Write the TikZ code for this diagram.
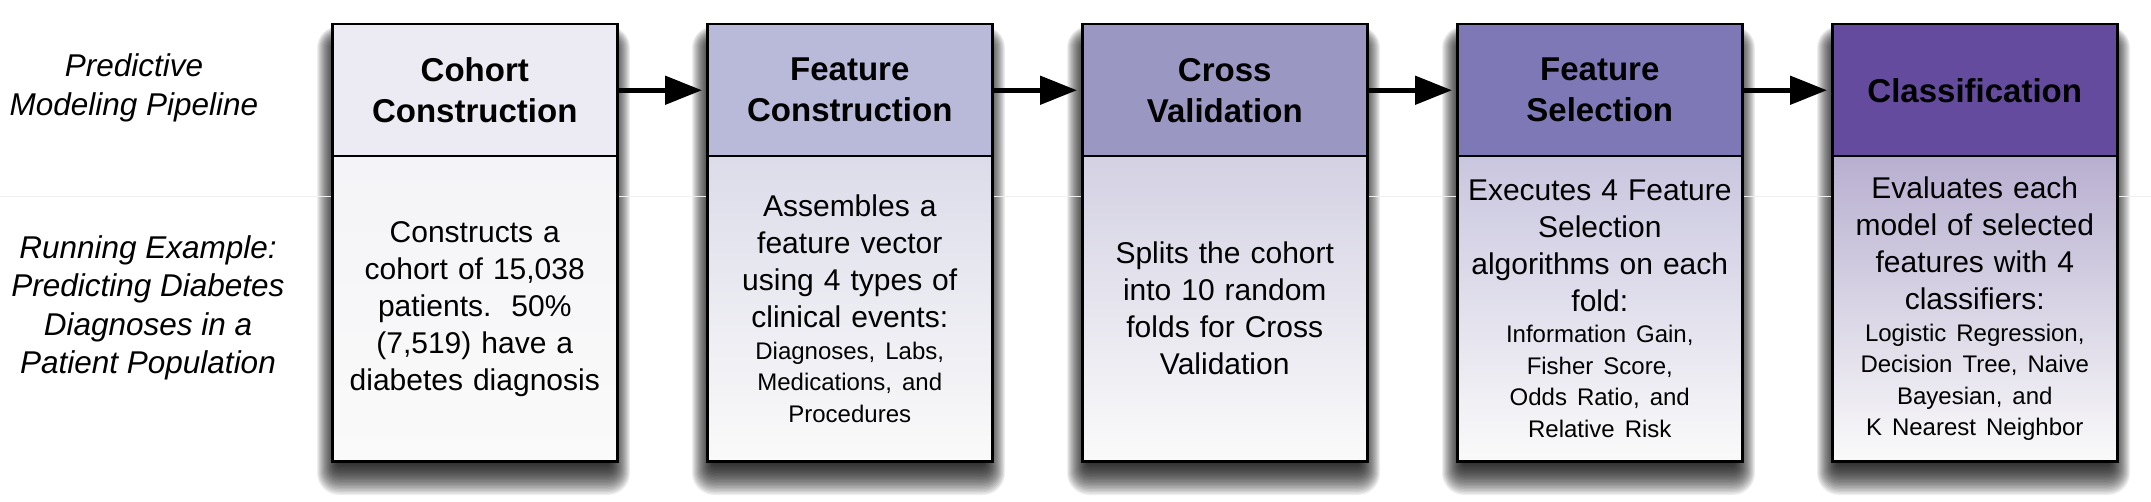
\documentclass[tikz,border=0pt]{standalone}
\usepackage{fontspec}
\setmainfont{Liberation Sans}
\usetikzlibrary{arrows.meta}
\definecolor{hA}{HTML}{ECEAF2}
\definecolor{hB}{HTML}{B9B9DA}
\definecolor{hC}{HTML}{9B97C3}
\definecolor{hD}{HTML}{7E79B6}
\definecolor{hE}{HTML}{644B9D}
\definecolor{bA}{HTML}{F4F4F8}
\definecolor{bB}{HTML}{DCDCEA}
\definecolor{bC}{HTML}{D3D1E3}
\definecolor{bD}{HTML}{C9C6DF}
\definecolor{bE}{HTML}{B8AFD0}
\definecolor{bend}{HTML}{FAFAFA}
\definecolor{sepline}{HTML}{F0F0F0}
\tikzset{
  headbox/.style={draw=black, line width=2.5pt, minimum width=285pt, minimum height=132pt,
    inner sep=0pt, anchor=north west, align=center,
    font=\fontsize{33}{41}\selectfont\bfseries},
  bodybox/.style={draw=black, line width=2.5pt, minimum width=285pt, minimum height=305pt,
    inner sep=0pt, anchor=north west, text width=272pt, align=center,
    shading=axis, bottom color=bend, shading angle=0,
    font=\fontsize{30}{37}\selectfont},
  sidelabel/.style={align=center, font=\fontsize{31.5}{38.5}\selectfont\itshape},
  flow/.style={line width=5pt, -{Triangle[length=37pt,width=28pt]}, shorten >=4pt}
}
\newcommand{\smallfont}{\fontsize{24}{31.5}\selectfont}
\begin{document}
\begin{tikzpicture}[x=1pt,y=-1pt]
\useasboundingbox (0,0) rectangle (2151,502);
\fill[white] (0,0) rectangle (2151,502);
% soft shadows
\foreach \L in {331,706,1081,1456,1831}{
  \foreach \i in {1,...,22}{
    \fill[black, opacity=0.065, rounded corners={\i pt}] (\L+8-\i, 48-\i) rectangle (\L+277+\i, 462+1.5*\i);
  }
}
\draw[sepline, line width=1pt] (0,197) -- (2151,197);
% side labels
\node[sidelabel] (lab1) at (134,88) {Predictive\\Modeling Pipeline};
\node[sidelabel] (lab2) at (148,308) {Running Example:\\Predicting Diabetes\\Diagnoses in a\\Patient Population};
% boxes
\node[headbox, fill=hA] (h1) at (331,23) {Cohort\\Construction};
\node[bodybox, top color=bA] (b1) at (331,155) {Constructs a\\cohort of 15,038\\patients.~~50\%\\(7,519) have a\\diabetes diagnosis};
\node[headbox, fill=hB] (h2) at (706,23) {Feature\\Construction};
\node[bodybox, top color=bB] (b2) at (706,155) {Assembles a\\feature vector\\using 4 types of\\clinical events:\par\smallfont Diagnoses, Labs,\\Medications, and\\Procedures\par};
\node[headbox, fill=hC] (h3) at (1081,23) {Cross\\Validation};
\node[bodybox, top color=bC] (b3) at (1081,155) {Splits the cohort\\into 10 random\\folds for Cross\\Validation};
\node[headbox, fill=hD] (h4) at (1456,23) {Feature\\Selection};
\node[bodybox, top color=bD] (b4) at (1456,155) {Executes 4 Feature\\Selection\\algorithms on each\\fold:\par\smallfont Information Gain,\\Fisher Score,\\Odds Ratio, and\\Relative Risk\par};
\node[headbox, fill=hE] (h5) at (1831,23) {Classification};
\node[bodybox, top color=bE] (b5) at (1831,155) {Evaluates each\\model of selected\\features with 4\\classifiers:\par\smallfont Logistic Regression,\\Decision Tree, Naive\\Bayesian, and\\K Nearest Neighbor\par};
% connectors
\draw[flow] (h1.east) -- (h2.west);
\draw[flow] (h2.east) -- (h3.west);
\draw[flow] (h3.east) -- (h4.west);
\draw[flow] (h4.east) -- (h5.west);
\end{tikzpicture}
\end{document}
